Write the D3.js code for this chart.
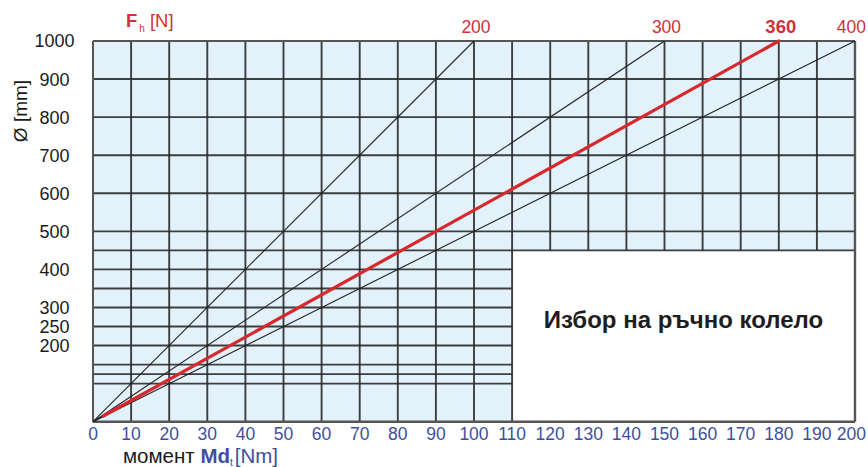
<!DOCTYPE html>
<html>
<head>
<meta charset="utf-8">
<script src="https://cdn.jsdelivr.net/npm/d3@7"></script>
<style>
  html, body { margin: 0; padding: 0; background: #fff; }
  svg { display: block; }
  .nar { font-family: "Liberation Sans Narrow", "Arial Narrow", "Liberation Sans", Arial, sans-serif; }
  .reg { font-family: "Liberation Sans", Arial, sans-serif; }
</style>
</head>
<body>
<svg id="chart" width="868" height="467"></svg>
<script>
// ---- data ----
const forces = [200, 300, 360, 400];            // F_h [N]
const highlightForce = 360;
const mdTicks = d3.range(0, 201, 10);            // moment Md_t [Nm]
const diameterGrid = [100, 125, 150, 200, 250, 300, 350, 400, 450, 500, 600, 700, 800, 900, 1000];
const diameterLabels = [200, 250, 300, 400, 500, 600, 700, 800, 900, 1000];
const mdMax = 200, dMax = 1000;
const boxMd = 110, boxD = 450;                   // white inset area (Md > 110, D < 450)
const title = "Избор на ръчно колело";

// ---- layout ----
const svg = d3.select("#chart");
const x = d3.scaleLinear().domain([0, mdMax]).range([93, 855]);
const y = d3.scaleLinear().domain([0, dMax]).range([421.7, 41]);
const mdAt = (F, D) => F * D / 2000;             // Md = F * D/2 [N*m]

const blueText = "#3d4f9e", redText = "#d1313a", gridC = "#2a2a2a";

// background
svg.append("rect").attr("x", x(0)).attr("y", y(dMax))
  .attr("width", x(mdMax) - x(0)).attr("height", y(0) - y(dMax)).attr("fill", "#e3f1fb");
svg.append("rect").attr("x", x(boxMd)).attr("y", y(boxD))
  .attr("width", x(mdMax) - x(boxMd)).attr("height", y(0) - y(boxD)).attr("fill", "#ffffff");

const g = svg.append("g");
// vertical grid lines
mdTicks.forEach(v => {
  if (v === 0 || v === mdMax) return;
  const yBottom = v > boxMd ? y(boxD) : y(0);
  g.append("line").attr("x1", x(v)).attr("x2", x(v)).attr("y1", y(dMax)).attr("y2", yBottom)
    .attr("stroke", gridC).attr("stroke-width", 1.9).attr("stroke-opacity", 0.9);
});
// horizontal grid lines
diameterGrid.forEach(v => {
  if (v === dMax) return;
  const xRight = v < boxD ? x(boxMd) : x(mdMax);
  g.append("line").attr("x1", x(0)).attr("x2", xRight).attr("y1", y(v)).attr("y2", y(v))
    .attr("stroke", gridC).attr("stroke-width", 1.9).attr("stroke-opacity", 0.9);
});
// frame
const frameC = "#555";
g.append("line").attr("x1", x(0)).attr("x2", x(mdMax)).attr("y1", y(dMax)).attr("y2", y(dMax)).attr("stroke", frameC).attr("stroke-width", 2);
g.append("line").attr("x1", x(0)).attr("x2", x(0)).attr("y1", y(dMax)).attr("y2", y(0)).attr("stroke", frameC).attr("stroke-width", 2);
g.append("line").attr("x1", x(mdMax)).attr("x2", x(mdMax)).attr("y1", y(dMax)).attr("y2", y(0)).attr("stroke", frameC).attr("stroke-width", 2.4);
g.append("line").attr("x1", x(0)).attr("x2", x(mdMax)).attr("y1", y(0)).attr("y2", y(0)).attr("stroke", frameC).attr("stroke-width", 2.4);

// force lines
const line = d3.line().x(d => x(d[0])).y(d => y(d[1]));
forces.forEach(F => {
  const pts = [[0, 0], [mdAt(F, dMax), dMax]];
  svg.append("path").attr("d", line(pts)).attr("fill", "none")
    .attr("stroke", "#222").attr("stroke-width", 1.1);
});
{
  const F = highlightForce;
  const pts = [[mdAt(F, 15), 15], [mdAt(F, dMax), dMax]];
  svg.append("path").attr("d", line(pts)).attr("fill", "none")
    .attr("stroke", "#d8282e").attr("stroke-width", 3.2).attr("stroke-linecap", "round");
}

// bottom axis labels
const lastMd = mdTicks.length - 1;
svg.append("g").selectAll("text").data(mdTicks).join("text")
  .attr("class", "nar")
  .attr("x", (d, i) => i === lastMd ? 866 : x(d))
  .attr("y", 439.5)
  .attr("text-anchor", (d, i) => i === lastMd ? "end" : "middle")
  .attr("font-size", 17.5).attr("fill", blueText)
  .text(d => d);

// left axis labels
svg.append("g").selectAll("text").data(diameterLabels).join("text")
  .attr("class", "nar").attr("x", 54.5).attr("y", d => y(d)).attr("dy", "0.36em")
  .attr("text-anchor", "middle").attr("font-size", 18).attr("fill", "#1a1a1a")
  .text(d => d);

// top force labels
svg.append("g").selectAll("text").data(forces).join("text")
  .attr("class", "nar")
  .attr("x", (d, i) => i === forces.length - 1 ? 866 : x(mdAt(d, dMax)) + 2)
  .attr("y", 33)
  .attr("text-anchor", (d, i) => i === forces.length - 1 ? "end" : "middle")
  .attr("font-size", d => d === highlightForce ? 18.5 : 17.5)
  .attr("font-weight", d => d === highlightForce ? "bold" : "normal")
  .attr("fill", redText).text(d => d);

// F_h [N]
const fh = svg.append("text").attr("class", "nar").attr("x", 126).attr("y", 27)
  .attr("font-size", 18.5).attr("fill", redText);
fh.append("tspan").attr("font-weight", "bold").text("F");
fh.append("tspan").attr("font-size", 10).attr("dy", 5).attr("dx", 2).text("h");
fh.append("tspan").attr("dy", -5).attr("dx", 5).text("[N]");

// y title
svg.append("text").attr("class", "nar").attr("transform", "translate(27,111) rotate(-90)")
  .attr("text-anchor", "middle").attr("font-size", 19).attr("fill", "#1a1a1a").text("Ø [mm]");

// x title
const xt = svg.append("text").attr("class", "reg").attr("x", 123).attr("y", 463)
  .attr("font-size", 20.5);
xt.append("tspan").attr("fill", "#1a1a1a").text("момент ");
xt.append("tspan").attr("fill", blueText).attr("font-weight", "bold").text("Md");
xt.append("tspan").attr("fill", blueText).attr("font-size", 10).attr("dy", 3).text("t");
xt.append("tspan").attr("class", "nar").attr("fill", blueText).attr("dy", -3).attr("dx", 2).text("[Nm]");

// inset title
svg.append("text").attr("class", "reg").attr("x", 683.5).attr("y", 328)
  .attr("text-anchor", "middle").attr("font-size", 24).attr("font-weight", "bold")
  .attr("fill", "#1e1e1e").text(title);
</script>
</body>
</html>
